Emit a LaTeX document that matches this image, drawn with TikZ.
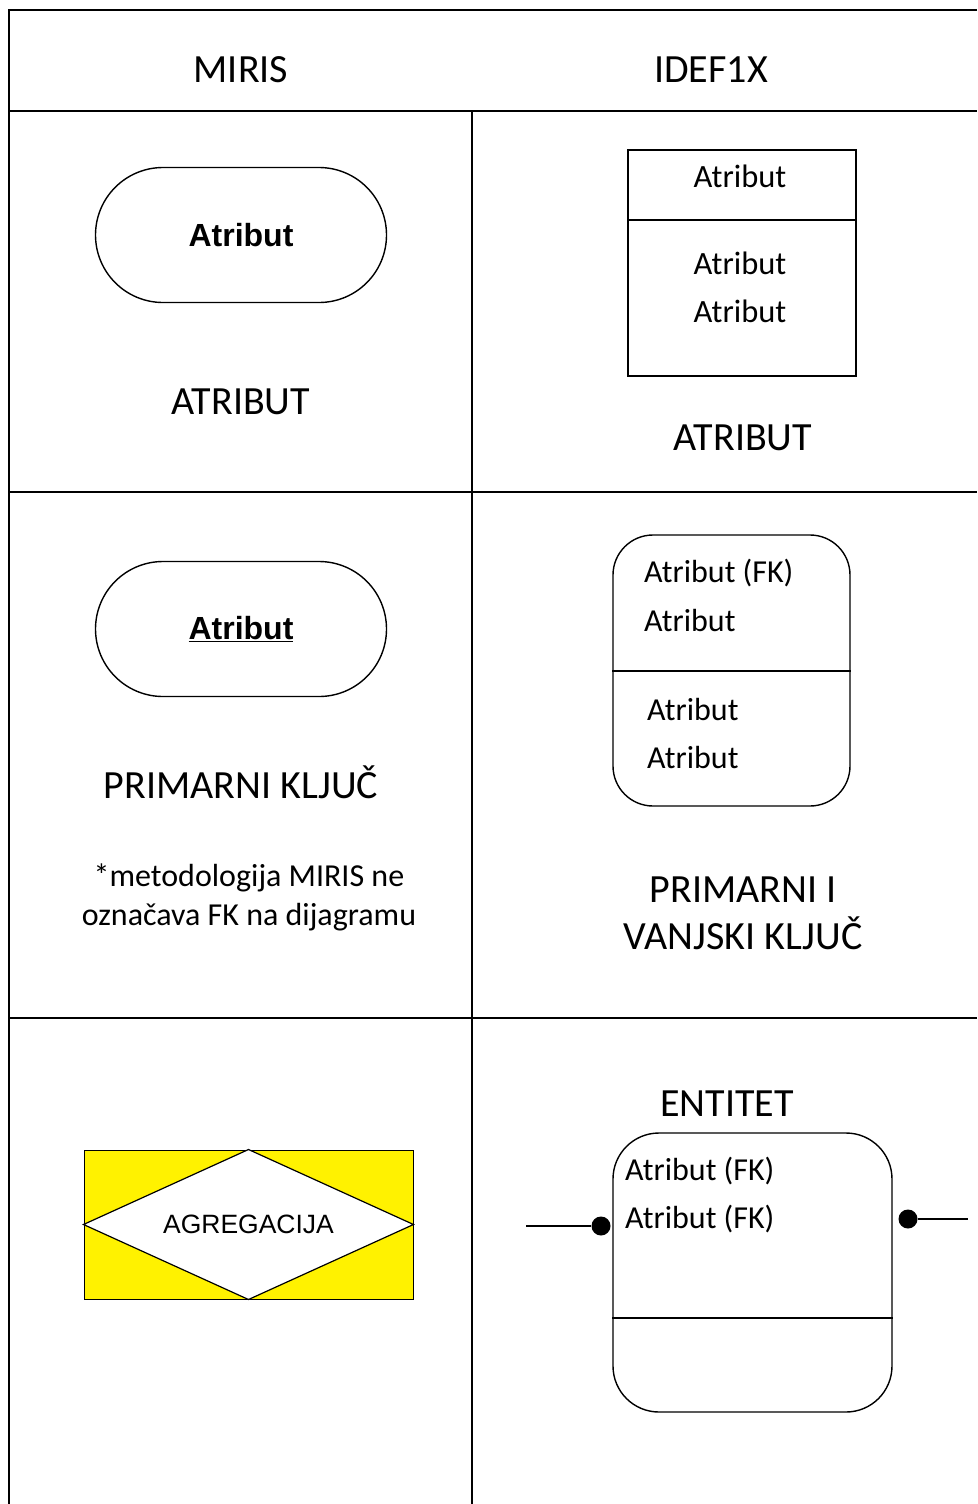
\documentclass[tikz,border=0pt]{standalone}
\usepackage{fontspec}
\setmainfont{Carlito}
\newfontfamily\arialf{Liberation Sans}
\usetikzlibrary{calc}
\begin{document}
\begin{tikzpicture}[x=1pt,y=-1pt,
  grid/.style={line width=1.6pt},
  shp/.style={draw, line width=1.4pt, inner sep=0pt},
  big/.style={font=\fontsize{40}{46}\selectfont},
  mid/.style={font=\fontsize{32.5}{36}\selectfont},
  note/.style={font=\fontsize{32}{39}\selectfont, align=center},
  lbl/.style={font=\fontsize{32}{36}\selectfont, anchor=west, inner sep=0pt},
  stad/.style={shp, minimum width=291pt, minimum height=135pt, rounded corners=67.5pt, font=\arialf\bfseries\fontsize{32}{36}\selectfont},
  dotn/.style={circle, fill=black, inner sep=0pt, minimum size=19pt},
  conn/.style={line width=1.4pt}]
\useasboundingbox (0,0) rectangle (977,1504);
% table grid
\draw[grid] (977,10) -- (9,10) -- (9,1504);
\draw[grid] (9,111) -- (977,111);
\draw[grid] (9,492) -- (977,492);
\draw[grid] (9,1018) -- (977,1018);
\draw[grid] (472,111) -- (472,1504);
% header
\node[big] (hmiris) at (241,70) {MIRIS};
\node[big] (hidef) at (711,70) {IDEF1X};
% row 1
\node[stad] (st1) at (241,235) {Atribut};
\node[big] (atr1) at (241,402) {ATRIBUT};
\node[shp, minimum width=228pt, minimum height=226pt] (box1) at (742,263) {};
\draw[conn] (box1.west |- 0,220) -- (box1.east |- 0,220);
\node[mid] (b1a) at (740,176) {Atribut};
\node[mid] (b1b) at (740,263) {Atribut};
\node[mid] (b1c) at (740,311) {Atribut};
\node[big] (atr2) at (743,438) {ATRIBUT};
% row 2
\node[stad] (st2) at (241,629) {\underline{Atribut}};
\node[big] (pk) at (241,782) {PRIMARNI KLJUČ};
\node[note] (nt) at (249,897) {*metodologija MIRIS ne\\označava FK na dijagramu};
\node[shp, minimum width=237pt, minimum height=271pt, rounded corners=40pt] (box2) at (731.5,670.5) {};
\draw[conn] (box2.west |- 0,671) -- (box2.east |- 0,671);
\node[lbl] (b2a) at (644,573) {Atribut (FK)};
\node[lbl] (b2b) at (644,621) {Atribut};
\node[lbl] (b2c) at (647,709) {Atribut};
\node[lbl] (b2d) at (647,757) {Atribut};
\node[align=center, font=\fontsize{40}{47}\selectfont] (pvk) at (743,913) {PRIMARNI I\\VANJSKI KLJUČ};
% row 3
\node[draw, line width=1pt, fill=yellow, minimum width=329pt, minimum height=149pt, inner sep=0pt] (agr) at (248.5,1224.5) {};
\draw[line width=1.2pt, fill=white] (agr.north) -- (agr.east) -- (agr.south) -- (agr.west) -- cycle;
\node[font=\arialf\fontsize{26.5}{30}\selectfont] (agrt) at (248.5,1224.5) {AGREGACIJA};
\node[big] (ent) at (727,1104) {ENTITET};
\node[shp, minimum width=279pt, minimum height=279pt, rounded corners=46pt] (box3) at (752.5,1272.5) {};
\draw[conn] (box3.west |- 0,1318) -- (box3.east |- 0,1318);
\node[lbl] (b3a) at (625,1171) {Atribut (FK)};
\node[lbl] (b3b) at (625,1219) {Atribut (FK)};
\node[dotn] (dl) at (601,1226) {};
\node[dotn] (dr) at (908,1219) {};
\coordinate (cl) at (526,1226);
\coordinate (cr) at (968,1219);
\draw[conn] (cl) -- (dl);
\draw[conn] (dr) -- (cr);
\end{tikzpicture}
\end{document}
